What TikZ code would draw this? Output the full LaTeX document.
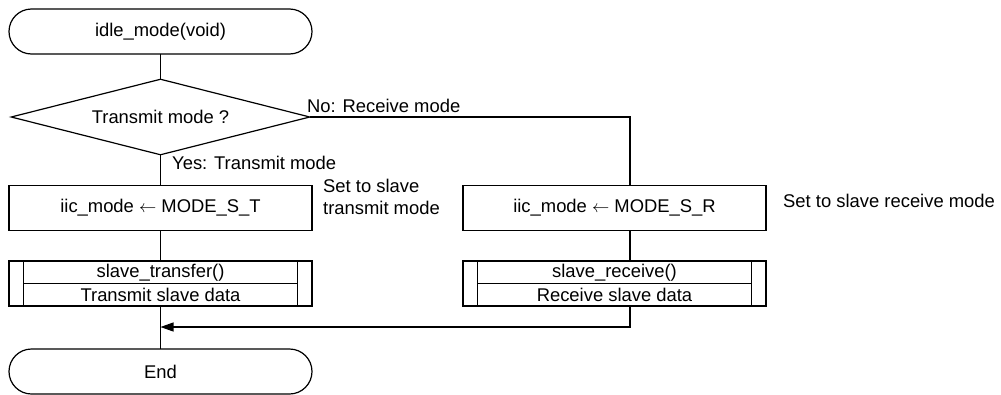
\documentclass[tikz,border=0pt]{standalone}
\usepackage{fontspec}
\setmainfont{Liberation Sans}
\usetikzlibrary{shapes.geometric,arrows.meta}
\newcommand{\assignarrow}{\ $\leftarrow$\ }
\begin{document}
\begin{tikzpicture}[x=1pt,y=-1pt,
  every node/.style={font=\fontsize{18.4}{22}\selectfont, inner sep=0pt},
  line/.style={line width=1.2pt, line cap=rect},
  terminal/.style={draw, line width=1.2pt, rectangle, rounded corners=22.5pt,
                   minimum width=303pt, minimum height=45pt},
  procbox/.style={draw, line width=1.2pt, rectangle,
                  minimum width=303pt, minimum height=45pt},
  decision/.style={draw, line width=1.2pt, diamond, shape aspect=3.93,
                   minimum width=299pt, minimum height=76pt},
  subbox/.style={draw, line width=1.2pt, rectangle,
                 minimum width=303pt, minimum height=45pt},
  >={Triangle[length=13pt,width=9pt]}
]
\useasboundingbox (0,0) rectangle (1001,394);

% flow nodes
\node[terminal] (start) at (160.5,31.5) {idle\_mode(void)};
\node[decision] (dec) at (160.5,117) {Transmit mode ?};
\node[procbox] (p1) at (160.5,208) {iic\_mode\assignarrow MODE\_S\_T};
\node[procbox] (p2) at (614.5,208) {iic\_mode\assignarrow MODE\_S\_R};
\node[subbox] (s1) at (160.5,283.5) {};
\node[subbox] (s2) at (614.5,283.5) {};
\node[terminal] (end) at (160.5,371.5) {End};

% predefined-process boxes: side bars, divider and two text lines
\foreach \b/\ta/\tb in {s1/slave\_transfer()/Transmit slave data,
                         s2/slave\_receive()/Receive slave data}{
  \draw[line] ([xshift=15pt]\b.north west) -- ([xshift=15pt]\b.south west);
  \draw[line] ([xshift=-15pt]\b.north east) -- ([xshift=-15pt]\b.south east);
  \draw[line] ([xshift=15pt]\b.west) -- ([xshift=-15pt]\b.east);
  \node (\b top) at ([yshift=11.2pt]\b.center) {\ta};
  \node (\b bot) at ([yshift=-11.2pt]\b.center) {\tb};
}

% connectors
\coordinate (join) at (160.5,327);
\draw[line] (start.south) -- (dec.north);
\draw[line] (dec.south) -- (p1.north);
\draw[line] (dec.east) -| ([xshift=15.5pt]p2.north);
\draw[line] (p1.south) -- (s1.north);
\draw[line] ([xshift=15.5pt]p2.south) -- ([xshift=15.5pt]s2.north);
\draw[line] (s1.south) -- (end.north);
\draw[line,->] ([xshift=15.5pt]s2.south) |- (join);

% branch labels and comments
\node[anchor=base west] (yes) at (172,169.5) {Yes: Transmit mode};
\node[anchor=base west] (no) at (307,112) {No: Receive mode};
\node[anchor=base west] (c1a) at (323,192) {Set to slave};
\node[anchor=base west] (c1b) at (323,214) {transmit mode};
\node[anchor=base west] (c2) at (783,207) {Set to slave receive mode};
\end{tikzpicture}
\end{document}
